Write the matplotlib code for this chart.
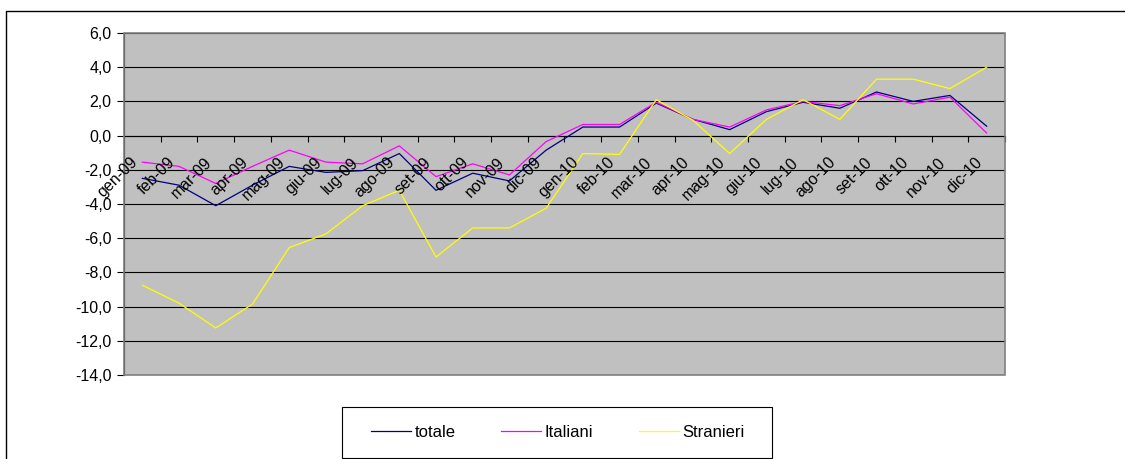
import matplotlib
matplotlib.use("Agg")
import matplotlib.pyplot as plt
import matplotlib.transforms as mtransforms
from matplotlib.patches import Rectangle

plt.rcParams['font.family'] = ['Liberation Sans', 'DejaVu Sans']

months = ["gen-09", "feb-09", "mar-09", "apr-09", "mag-09", "giu-09", "lug-09", "ago-09",
          "set-09", "ott-09", "nov-09", "dic-09", "gen-10", "feb-10", "mar-10", "apr-10",
          "mag-10", "giu-10", "lug-10", "ago-10", "set-10", "ott-10", "nov-10", "dic-10"]

totale = [-2.5, -2.9, -4.1, -2.9, -1.8, -2.15, -2.05, -1.05,
          -3.2, -2.2, -2.65, -0.85, 0.5, 0.5, 1.9, 0.95,
          0.35, 1.4, 1.95, 1.6, 2.55, 2.0, 2.35, 0.55]

italiani = [-1.55, -1.8, -2.8, -1.8, -0.85, -1.55, -1.65, -0.6,
            -2.4, -1.65, -2.3, -0.35, 0.65, 0.65, 1.95, 0.95,
            0.5, 1.5, 2.0, 1.75, 2.45, 1.85, 2.25, 0.15]

stranieri = [-8.75, -9.8, -11.25, -9.85, -6.55, -5.75, -4.1, -3.2,
             -7.1, -5.4, -5.4, -4.25, -1.05, -1.1, 2.1, 0.9,
             -1.05, 0.95, 2.1, 0.95, 3.3, 3.3, 2.75, 4.0]

y_ticks = [6, 4, 2, 0, -2, -4, -6, -8, -10, -12, -14]

W, H = 1125, 459
fig = plt.figure(figsize=(W / 100, H / 100), dpi=100)
fig.patch.set_facecolor("white")

# outer chart frame (open towards right and bottom)
fig.add_artist(Rectangle((6 / W, -0.05), 1.2, 1 - 11 / H + 0.05, transform=fig.transFigure,
                         fill=False, edgecolor="black", linewidth=1.0))

ax = fig.add_axes([124 / W, 1 - 375 / H, (1005 - 124) / W, (375 - 33) / H])
ax.set_facecolor("#C0C0C0")

n = len(months)
x = list(range(n))
ax.plot(x, totale, color="#000080", linewidth=0.9, label="totale", zorder=4)
ax.plot(x, italiani, color="#FF00FF", linewidth=0.9, label="Italiani", zorder=4)
ax.plot(x, stranieri, color="#FFFF00", linewidth=0.9, label="Stranieri", zorder=4)

ax.set_xlim(-0.5, n - 0.5)
ax.set_ylim(-14, 6)

for v in y_ticks:
    ax.axhline(v, color="black", linewidth=0.8, zorder=1)

ax.set_yticks(y_ticks)
ax.set_yticklabels([f"{v:.1f}".replace(".", ",") for v in y_ticks], fontsize=11.5)
ax.tick_params(axis="y", direction="out", length=5, width=0.8, pad=4, colors="black")

# category axis crossing at zero with ticks between categories
for s in ["top", "right"]:
    ax.spines[s].set_visible(False)
ax.spines["bottom"].set_position(("data", 0))
ax.spines["bottom"].set_linewidth(0.8)
ax.spines["left"].set_linewidth(0.8)
ax.set_xticks([i - 0.5 for i in range(1, n + 1)])
ax.set_xticklabels([])
ax.tick_params(axis="x", direction="out", length=4, width=0.8, colors="black")

# plot-area border
ax.add_patch(Rectangle((0, 0), 1, 1, transform=ax.transAxes, fill=False,
                       edgecolor="#808080", linewidth=1.2, zorder=5, clip_on=False))

label_off = mtransforms.ScaledTranslation(-12 / 100, -19 / 100, fig.dpi_scale_trans)
for i, m in enumerate(months):
    ax.text(i, 0, m, rotation=45, rotation_mode="anchor", ha="right", va="top",
            fontsize=11.5, transform=ax.transData + label_off, zorder=6)

# legend box and entries
lx0, lx1, ly0, ly1 = 342, 772, 407, 458
fig.add_artist(Rectangle((lx0 / W, 1 - ly1 / H), (lx1 - lx0) / W, (ly1 - ly0) / H,
                         transform=fig.transFigure, fill=False, edgecolor="black", linewidth=0.8))
leg = ax.legend(loc="center", bbox_to_anchor=((lx0 + lx1) / 2 / W + 1 / W, 1 - (ly0 + ly1) / 2 / H),
                bbox_transform=fig.transFigure, ncol=3, fontsize=12,
                frameon=False, handlelength=2.4, handletextpad=0.2,
                columnspacing=2.75, borderaxespad=0, borderpad=0)

fig.savefig("out.png", dpi=100, facecolor="white")
